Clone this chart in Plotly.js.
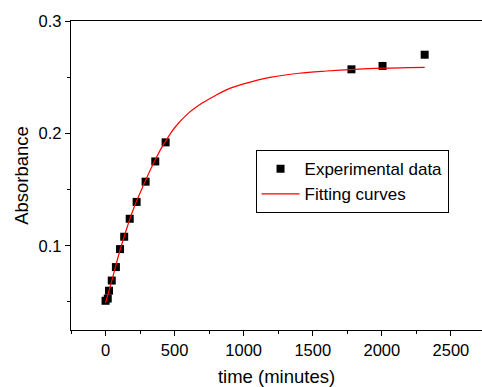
<!DOCTYPE html>
<html>
<head>
<meta charset="utf-8">
<script src="https://cdn.plot.ly/plotly-3.0.1.min.js"></script>
<style>
html,body{margin:0;padding:0;background:#fff;overflow:hidden;}
#chart{width:482px;height:387px;}
</style>
</head>
<body>
<div id="chart"></div>
<script>
var expTime = [0, 16, 25, 45, 75, 105, 135, 175, 225, 290, 360, 435, 1780, 2005, 2310];
var expAbs  = [0.051, 0.053, 0.060, 0.069, 0.081, 0.097, 0.108, 0.124, 0.139, 0.157, 0.175, 0.192, 0.257, 0.260, 0.270];

// Fitting curve
var fitTime = [0, 50, 100, 150, 200, 250, 300, 350, 400, 450, 500, 600, 700, 800, 900, 1000, 1200, 1400, 1600, 1800, 2000, 2200, 2310];
var fitAbs  = [0.049, 0.071, 0.094, 0.114, 0.132, 0.147, 0.161, 0.174, 0.186, 0.196, 0.205, 0.218, 0.227, 0.234, 0.240, 0.244, 0.250, 0.2535, 0.2555, 0.257, 0.258, 0.2585, 0.2588];

var xTickVals = [0, 500, 1000, 1500, 2000, 2500];
var yTickVals = [0.1, 0.2, 0.3];

var font = 'Liberation Sans, Arial, sans-serif';

var traces = [
  {
    x: expTime, y: expAbs, type: 'scatter', mode: 'markers',
    name: 'Experimental data',
    marker: {symbol: 'square', size: 8, color: '#000'}
  },
  {
    x: fitTime, y: fitAbs, type: 'scatter', mode: 'lines',
    name: 'Fitting curves',
    line: {color: '#ff0000', width: 1.2, shape: 'spline'}
  }
];

var layout = {
  width: 482, height: 387,
  margin: {l: 71, r: 0, t: 21, b: 57},
  paper_bgcolor: '#fff', plot_bgcolor: '#fff',
  font: {family: font, size: 16.5, color: '#000'},
  showlegend: true,
  legend: {
    x: 0.449, y: 0.582, xanchor: 'left', yanchor: 'top',
    bordercolor: '#000', borderwidth: 1, bgcolor: '#fff',
    font: {family: font, size: 17, color: '#000'},
    itemwidth: 38,
    tracegroupgap: 0
  },
  xaxis: {
    range: [-250, 2725],
    tickvals: xTickVals,
    ticks: 'outside', ticklen: 5, tickwidth: 1, tickcolor: '#000',
    minor: {dtick: 250, tick0: 0, ticks: 'outside', ticklen: 3, tickwidth: 1, tickcolor: '#000', showgrid: false},
    showline: true, linecolor: '#000', linewidth: 1.2, mirror: true,
    showgrid: false, zeroline: false,
    tickfont: {family: font, size: 16.5, color: '#000'},
    title: {text: 'time (minutes)', font: {family: font, size: 18.5, color: '#000'}, standoff: 12}
  },
  yaxis: {
    range: [0.025, 0.3],
    tickvals: yTickVals,
    ticks: 'outside', ticklen: 5, tickwidth: 1, tickcolor: '#000',
    minor: {dtick: 0.05, tick0: 0, ticks: 'outside', ticklen: 3, tickwidth: 1, tickcolor: '#000', showgrid: false},
    showline: true, linecolor: '#000', linewidth: 1.2, mirror: false,
    showgrid: false, zeroline: false,
    tickfont: {family: font, size: 16.5, color: '#000'},
    title: {text: 'Absorbance', font: {family: font, size: 18.5, color: '#000'}, standoff: 5}
  }
};

Plotly.newPlot('chart', traces, layout, {displayModeBar: false, staticPlot: true});
</script>
</body>
</html>
